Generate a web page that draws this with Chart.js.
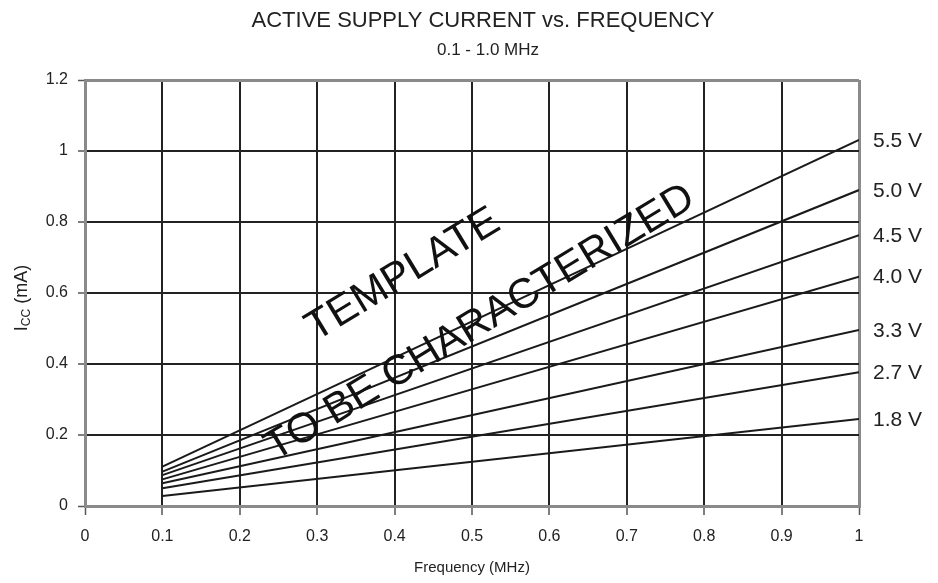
<!DOCTYPE html>
<html lang="en">
<head>
    <meta charset="UTF-8">
    <title>Active Supply Current vs. Frequency</title>
    <script src="https://cdn.jsdelivr.net/npm/chart.js"></script>
    <style>
        html, body { margin: 0; padding: 0; background: #ffffff; }
        #wrap { width: 938px; height: 583px; position: relative; }
    </style>
</head>
<body>
    <div id="wrap"><canvas id="iccChart"></canvas></div>

    <script>
        // values (mA at 0.1 MHz and 1.0 MHz)
        const freqs = [0.1, 1.0];
        const voltLabels = ['5.5 V', '5.0 V', '4.5 V', '4.0 V', '3.3 V', '2.7 V', '1.8 V'];
        const icc55 = [0.111, 1.031];
        const icc50 = [0.097, 0.890];
        const icc45 = [0.087, 0.763];
        const icc40 = [0.075, 0.646];
        const icc33 = [0.064, 0.496];
        const icc27 = [0.050, 0.377];
        const icc18 = [0.028, 0.245];
        const xTicks = [0, 0.1, 0.2, 0.3, 0.4, 0.5, 0.6, 0.7, 0.8, 0.9, 1];
        const yTicks = [0, 0.2, 0.4, 0.6, 0.8, 1, 1.2];

        const allSeries = [icc55, icc50, icc45, icc40, icc33, icc27, icc18];
        const FONT = "'Liberation Sans', Arial, sans-serif";

        const datasets = allSeries.map((vals, i) => ({
            label: voltLabels[i],
            data: freqs.map((f, j) => ({ x: f, y: vals[j] })),
            borderColor: '#1a1a1a',
            borderWidth: 2,
            pointRadius: 0,
            tension: 0,
            fill: false
        }));

        // titles, voltage labels at line ends, watermark, y title with subscript
        const extras = {
            id: 'extras',
            afterDatasetsDraw(chart) {
                const c = chart.ctx;
                const xs = chart.scales.x, ys = chart.scales.y;
                c.save();

                // titles
                c.fillStyle = '#222';
                c.textAlign = 'center';
                c.textBaseline = 'alphabetic';
                c.font = '22px ' + FONT;
                c.fillText('ACTIVE SUPPLY CURRENT vs. FREQUENCY', 483, 27);
                c.font = '17px ' + FONT;
                c.fillText('0.1 - 1.0 MHz', 488, 55);

                // line-end labels
                c.font = '21px ' + FONT;
                c.textAlign = 'left';
                c.textBaseline = 'middle';
                chart.data.datasets.forEach((ds) => {
                    const last = ds.data[ds.data.length - 1];
                    c.fillText(ds.label, xs.getPixelForValue(last.x) + 14, ys.getPixelForValue(last.y) + 1);
                });

                // watermark
                c.fillStyle = '#111';
                c.font = '42px ' + FONT;
                c.textAlign = 'center';
                c.textBaseline = 'middle';
                const ang = -31.3 * Math.PI / 180;
                c.save();
                c.translate(403, 275);
                c.rotate(ang);
                c.fillText('TEMPLATE', 0, 0);
                c.restore();
                c.save();
                c.translate(480, 323);
                c.rotate(ang);
                c.fillText('TO BE CHARACTERIZED', 0, 0);
                c.restore();

                // y axis title: I_CC (mA)
                c.save();
                c.translate(27, 298);
                c.rotate(-Math.PI / 2);
                c.fillStyle = '#222';
                c.textBaseline = 'alphabetic';
                c.textAlign = 'left';
                const big = '18px ' + FONT, small = '12px ' + FONT;
                c.font = big;
                const wI = c.measureText('I').width;
                const wRest = c.measureText(' (mA)').width;
                c.font = small;
                const wCC = c.measureText('CC').width;
                const x0 = -(wI + wCC + wRest) / 2;
                c.font = big;
                c.fillText('I', x0, 0);
                c.font = small;
                c.fillText('CC', x0 + wI, 3);
                c.font = big;
                c.fillText(' (mA)', x0 + wI + wCC, 0);
                c.restore();
                c.restore();
            }
        };

        const edgeColor = '#8a8a8a';
        const gridColor = '#222222';

        const ctx = document.getElementById('iccChart').getContext('2d');
        const chart = new Chart(ctx, {
            type: 'line',
            data: { datasets },
            options: {
                responsive: true,
                maintainAspectRatio: false,
                animation: false,
                layout: { padding: { left: 0, right: 79, top: 80, bottom: 0 } },
                scales: {
                    x: {
                        type: 'linear',
                        min: 0,
                        max: 1,
                        afterBuildTicks: (s) => { s.ticks = xTicks.map(v => ({ value: v })); },
                        afterFit: (s) => { s.height = 77; },
                        ticks: {
                            color: '#222',
                            font: { family: FONT, size: 16 },
                            padding: 12,
                            maxRotation: 0,
                            autoSkip: false,
                            callback: (v) => String(parseFloat(v.toFixed(1)))
                        },
                        grid: {
                            color: (c) => (c.tick && (c.tick.value === 0 || c.tick.value === 1)) ? edgeColor : gridColor,
                            lineWidth: (c) => (c.tick && (c.tick.value === 0 || c.tick.value === 1)) ? 3 : 2,
                            tickLength: 9,
                            tickColor: '#555',
                            tickWidth: 1.5
                        },
                        border: { display: true, color: edgeColor, width: 3 },
                        title: {
                            display: true,
                            text: 'Frequency (MHz)',
                            color: '#222',
                            font: { family: FONT, size: 15 },
                            padding: { top: 0, bottom: 6 }
                        }
                    },
                    y: {
                        min: 0,
                        max: 1.2,
                        afterBuildTicks: (s) => { s.ticks = yTicks.map(v => ({ value: v })); },
                        afterFit: (s) => { s.width = 85; },
                        ticks: {
                            color: '#222',
                            font: { family: FONT, size: 16 },
                            padding: 10,
                            callback: (v) => String(parseFloat(v.toFixed(1)))
                        },
                        grid: {
                            color: (c) => (c.tick && (c.tick.value === 0 || c.tick.value === 1.2)) ? edgeColor : gridColor,
                            lineWidth: (c) => (c.tick && (c.tick.value === 0 || c.tick.value === 1.2)) ? 3 : 2,
                            tickLength: 7,
                            tickColor: '#555',
                            tickWidth: 1.5
                        },
                        border: { display: true, color: edgeColor, width: 3 }
                    }
                },
                plugins: {
                    legend: { display: false },
                    tooltip: { enabled: false }
                }
            },
            plugins: [extras]
        });
    </script>
</body>
</html>
